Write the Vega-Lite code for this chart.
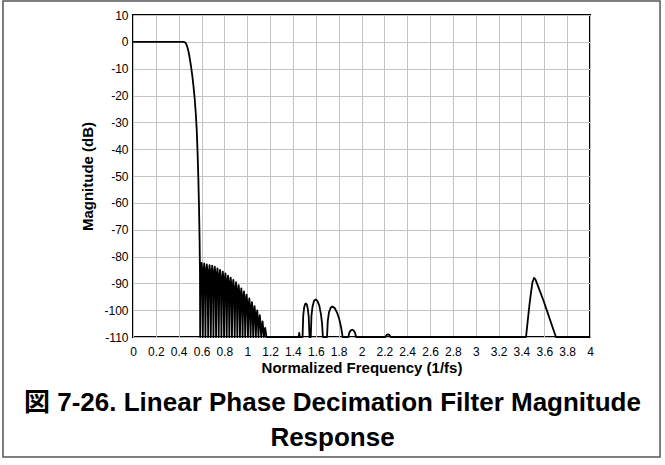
{
  "$schema": "https://vega.github.io/schema/vega-lite/v6.json",
  "autosize": "none",
  "width": 457,
  "height": 322,
  "padding": {"left": 133, "top": 15, "right": 75, "bottom": 128},
  "background": "white",
  "title": {
    "text": ["図 7-26. Linear Phase Decimation Filter Magnitude", "Response"],
    "orient": "bottom",
    "anchor": "middle",
    "font": "Liberation Sans, Noto Sans CJK JP",
    "fontSize": 26,
    "fontWeight": "bold",
    "color": "black",
    "lineHeight": 35,
    "offset": -68,
    "dx": -29
  },
  "config": {
    "view": {"stroke": "black", "strokeWidth": 2},
    "axis": {
      "labelFont": "Liberation Sans",
      "titleFont": "Liberation Sans",
      "labelFontSize": 12,
      "titleFontSize": 15,
      "titleFontWeight": "bold",
      "labelColor": "black",
      "titleColor": "black",
      "domain": false,
      "ticks": false,
      "gridColor": "#c4c4c4",
      "gridWidth": 1,
      "gridOpacity": 1,
      "tickCount": 100
    }
  },
  "layer": [
    {
      "data": {"name": "resp", "values": [
        {"f": 0, "db": 0}, {"f": 0.05, "db": 0.01}, {"f": 0.1, "db": 0.02}, {"f": 0.15, "db": 0.01},
        {"f": 0.2, "db": -0.01}, {"f": 0.25, "db": -0.02}, {"f": 0.3, "db": 0}, {"f": 0.35, "db": 0.02},
        {"f": 0.4, "db": 0.01}, {"f": 0.44, "db": 0}, {"f": 0.452, "db": -0.1}, {"f": 0.46, "db": -0.4},
        {"f": 0.468, "db": -1.0}, {"f": 0.476, "db": -2.0}, {"f": 0.484, "db": -3.3}, {"f": 0.492, "db": -5.0},
        {"f": 0.50, "db": -7}, {"f": 0.51, "db": -9.8}, {"f": 0.52, "db": -13}, {"f": 0.53, "db": -16.8},
        {"f": 0.54, "db": -21.2}, {"f": 0.55, "db": -27}, {"f": 0.558, "db": -33}, {"f": 0.565, "db": -41},
        {"f": 0.572, "db": -51}, {"f": 0.578, "db": -62}, {"f": 0.583, "db": -74}, {"f": 0.586, "db": -85}, {"f": 0.588, "db": -110},
        {"f": 0.594, "db": -85.4}, {"f": 0.600, "db": -82.4}, {"f": 0.606, "db": -85.4}, {"f": 0.611, "db": -110},
        {"f": 0.617, "db": -85.6}, {"f": 0.623, "db": -82.6}, {"f": 0.629, "db": -85.6}, {"f": 0.634, "db": -110},
        {"f": 0.640, "db": -85.9}, {"f": 0.646, "db": -82.9}, {"f": 0.652, "db": -85.9}, {"f": 0.658, "db": -110},
        {"f": 0.664, "db": -86.2}, {"f": 0.670, "db": -83.2}, {"f": 0.676, "db": -86.2}, {"f": 0.681, "db": -110},
        {"f": 0.687, "db": -86.4}, {"f": 0.693, "db": -83.4}, {"f": 0.699, "db": -86.4}, {"f": 0.704, "db": -110},
        {"f": 0.710, "db": -86.8}, {"f": 0.716, "db": -83.8}, {"f": 0.722, "db": -86.8}, {"f": 0.727, "db": -110},
        {"f": 0.733, "db": -87.4}, {"f": 0.739, "db": -84.4}, {"f": 0.745, "db": -87.4}, {"f": 0.750, "db": -110},
        {"f": 0.756, "db": -88.0}, {"f": 0.762, "db": -85.0}, {"f": 0.768, "db": -88.0}, {"f": 0.774, "db": -110},
        {"f": 0.780, "db": -88.6}, {"f": 0.786, "db": -85.6}, {"f": 0.792, "db": -88.6}, {"f": 0.797, "db": -110},
        {"f": 0.803, "db": -89.3}, {"f": 0.809, "db": -86.3}, {"f": 0.815, "db": -89.3}, {"f": 0.820, "db": -110},
        {"f": 0.826, "db": -90.1}, {"f": 0.832, "db": -87.1}, {"f": 0.838, "db": -90.1}, {"f": 0.843, "db": -110},
        {"f": 0.849, "db": -90.9}, {"f": 0.855, "db": -87.9}, {"f": 0.861, "db": -90.9}, {"f": 0.866, "db": -110},
        {"f": 0.872, "db": -91.7}, {"f": 0.878, "db": -88.7}, {"f": 0.884, "db": -91.7}, {"f": 0.890, "db": -110},
        {"f": 0.896, "db": -92.6}, {"f": 0.902, "db": -89.6}, {"f": 0.908, "db": -92.6}, {"f": 0.913, "db": -110},
        {"f": 0.919, "db": -93.7}, {"f": 0.925, "db": -90.7}, {"f": 0.931, "db": -93.7}, {"f": 0.936, "db": -110},
        {"f": 0.942, "db": -94.9}, {"f": 0.948, "db": -91.9}, {"f": 0.954, "db": -94.9}, {"f": 0.959, "db": -110},
        {"f": 0.965, "db": -96.0}, {"f": 0.971, "db": -93.0}, {"f": 0.977, "db": -96.0}, {"f": 0.982, "db": -110},
        {"f": 0.988, "db": -97.2}, {"f": 0.994, "db": -94.2}, {"f": 1.000, "db": -97.2}, {"f": 1.006, "db": -110},
        {"f": 1.012, "db": -98.6}, {"f": 1.018, "db": -95.6}, {"f": 1.024, "db": -98.6}, {"f": 1.029, "db": -110},
        {"f": 1.035, "db": -100.0}, {"f": 1.041, "db": -97.0}, {"f": 1.047, "db": -100.0}, {"f": 1.052, "db": -110},
        {"f": 1.058, "db": -101.5}, {"f": 1.064, "db": -98.5}, {"f": 1.070, "db": -101.5}, {"f": 1.075, "db": -110},
        {"f": 1.081, "db": -103.1}, {"f": 1.087, "db": -100.1}, {"f": 1.093, "db": -103.1}, {"f": 1.098, "db": -110},
        {"f": 1.104, "db": -104.9}, {"f": 1.110, "db": -101.9}, {"f": 1.116, "db": -104.9}, {"f": 1.122, "db": -110},
        {"f": 1.128, "db": -107.0}, {"f": 1.134, "db": -104.2}, {"f": 1.140, "db": -107.0}, {"f": 1.145, "db": -110},
        {"f": 1.151, "db": -108.5}, {"f": 1.157, "db": -106.6}, {"f": 1.163, "db": -108.5}, {"f": 1.168, "db": -110},
        {"f": 1.450, "db": -110}, {"f": 1.455, "db": -108.5}, {"f": 1.460, "db": -110},
        {"f": 1.484, "db": -110}, {"f": 1.490, "db": -102}, {"f": 1.498, "db": -99}, {"f": 1.506, "db": -97.8},
        {"f": 1.514, "db": -97.5}, {"f": 1.522, "db": -98}, {"f": 1.530, "db": -99.5}, {"f": 1.538, "db": -102.5},
        {"f": 1.545, "db": -110},
        {"f": 1.556, "db": -110}, {"f": 1.562, "db": -102}, {"f": 1.572, "db": -98.5}, {"f": 1.585, "db": -96.5},
        {"f": 1.600, "db": -96.0}, {"f": 1.615, "db": -96.6}, {"f": 1.630, "db": -98.2}, {"f": 1.645, "db": -101.5},
        {"f": 1.655, "db": -105}, {"f": 1.662, "db": -110},
        {"f": 1.698, "db": -110}, {"f": 1.705, "db": -104}, {"f": 1.715, "db": -100.8}, {"f": 1.730, "db": -99.1},
        {"f": 1.745, "db": -98.6}, {"f": 1.765, "db": -99.2}, {"f": 1.785, "db": -100.8}, {"f": 1.805, "db": -103.3},
        {"f": 1.822, "db": -106.5}, {"f": 1.835, "db": -110},
        {"f": 1.885, "db": -110}, {"f": 1.893, "db": -108.4}, {"f": 1.905, "db": -107.6}, {"f": 1.918, "db": -107.3},
        {"f": 1.932, "db": -107.6}, {"f": 1.944, "db": -108.5}, {"f": 1.953, "db": -110},
        {"f": 2.210, "db": -110}, {"f": 2.220, "db": -109.2}, {"f": 2.232, "db": -109}, {"f": 2.245, "db": -109.3},
        {"f": 2.255, "db": -110},
        {"f": 3.440, "db": -110}, {"f": 3.455, "db": -104}, {"f": 3.470, "db": -98}, {"f": 3.485, "db": -93},
        {"f": 3.497, "db": -89.5}, {"f": 3.510, "db": -88}, {"f": 3.522, "db": -88.5}, {"f": 3.540, "db": -90.5},
        {"f": 3.565, "db": -93.3}, {"f": 3.591, "db": -96.2}, {"f": 3.620, "db": -99.8}, {"f": 3.650, "db": -103.6},
        {"f": 3.680, "db": -107.3}, {"f": 3.702, "db": -110}, {"f": 4.0, "db": -110}
      ]},
      "mark": {"type": "line", "color": "black", "strokeWidth": 1.8, "strokeJoin": "round"},
      "encoding": {
        "x": {
          "field": "f", "type": "quantitative",
          "scale": {"domain": [0, 4], "nice": false, "zero": false},
          "axis": {
            "title": "Normalized Frequency (1/fs)",
            "values": [0, 0.2, 0.4, 0.6, 0.8, 1, 1.2, 1.4, 1.6, 1.8, 2, 2.2, 2.4, 2.6, 2.8, 3, 3.2, 3.4, 3.6, 3.8, 4],
            "tickCount": 100,
            "labelExpr": "toString(datum.value)",
            "labelPadding": 9,
            "titlePadding": 3,
            "labelFlush": false,
            "labelOverlap": false
          }
        },
        "y": {
          "field": "db", "type": "quantitative",
          "scale": {"domain": [-110, 10], "nice": false, "zero": false},
          "axis": {
            "title": "Magnitude (dB)",
            "values": [-110, -100, -90, -80, -70, -60, -50, -40, -30, -20, -10, 0, 10],
            "tickCount": 100,
            "labelExpr": "toString(datum.value)",
            "labelPadding": 5,
            "titlePadding": 8,
            "labelFlush": false,
            "labelOverlap": false
          }
        }
      }
    },
    {
      "data": {"values": [{}]},
      "mark": {"type": "rect", "fill": null, "stroke": "#555555", "strokeWidth": 1.5},
      "encoding": {
        "x": {"datum": -1.138, "type": "quantitative"},
        "x2": {"datum": 4.613},
        "y": {"datum": 15.22, "type": "quantitative"},
        "y2": {"datum": -154.74}
      }
    }
  ]
}
